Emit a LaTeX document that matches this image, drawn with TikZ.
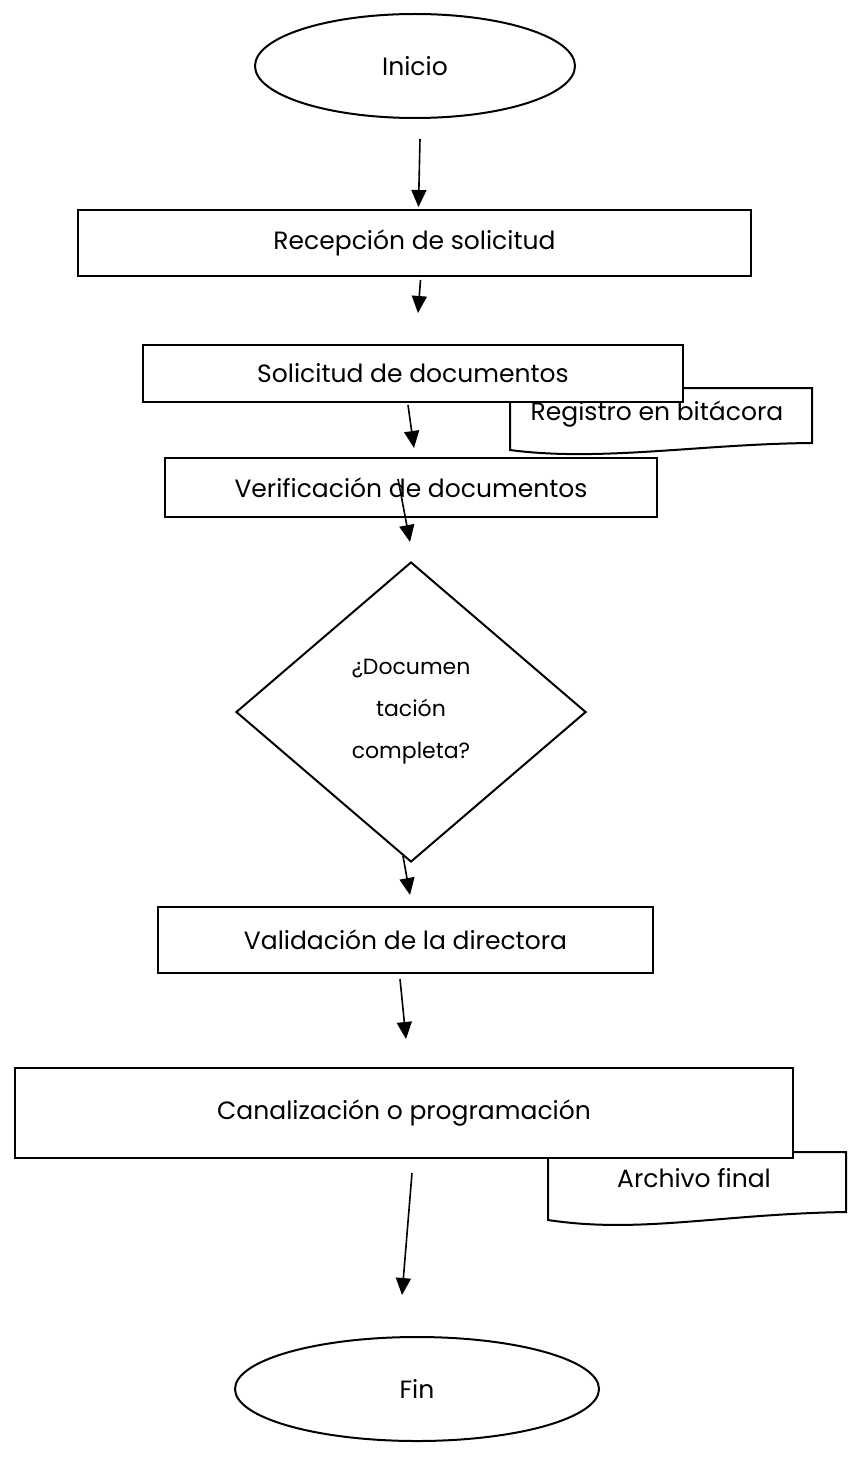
\documentclass[tikz,border=0pt]{standalone}
\usepackage{fontspec}
\setmainfont{Poppins}
\usetikzlibrary{shapes.geometric,arrows.meta}

\begin{document}
\begin{tikzpicture}
    % estilos: caja de proceso, terminal, decision, documento y flecha
    [x=1pt,y=-1pt,
    Paso/.style={rectangle,draw=black,fill=white,line width=2pt,inner sep=0pt,font=\fontsize{25}{30}\selectfont},
    Terminal/.style={ellipse,draw=black,fill=white,line width=2pt,inner sep=0pt,font=\fontsize{25}{30}\selectfont},
    Decision/.style={diamond,draw=black,fill=white,line width=2pt,inner sep=0pt,align=center,font=\fontsize{22}{42}\selectfont},
    DocTexto/.style={inner sep=0pt,font=\fontsize{25}{30}\selectfont},
    Flecha/.style={line width=1.6pt,-{Triangle[length=17pt,width=15pt]}}]

    % marco de la hoja
    \useasboundingbox (0,0) rectangle (851,1458);

    % documentos (detras de las cajas)
    \filldraw[fill=white,line width=2pt] (510,388) -- (812,388) -- (812,443)
        .. controls (700,444) and (600,462) .. (510,450) -- cycle;
    \node[DocTexto] (registro) at (657,414) {Registro en bitácora};
    \filldraw[fill=white,line width=2pt] (548,1152) -- (846,1152) -- (846,1212)
        .. controls (720,1214) and (640,1234) .. (548,1220) -- cycle;
    \node[DocTexto] (archivo) at (694,1178) {Archivo final};

    % inicio y fin
    \node[Terminal,minimum width=320,minimum height=104] (inicio) at (415,66) {Inicio};
    \node[Terminal,minimum width=364,minimum height=104] (fin) at (417,1389) {Fin};

    % cajas de proceso
    \node[Paso,minimum width=673,minimum height=66] (recep) at (414.5,243) {Recepción de solicitud};
    \node[Paso,minimum width=540,minimum height=57] (solic) at (413,373.5) {Solicitud de documentos};
    \node[Paso,minimum width=492,minimum height=59] (verif) at (411,487.5) {Verificación de documentos};
    \node[Paso,minimum width=495,minimum height=66] (valid) at (405.5,940) {Validación de la directora};
    \node[Paso,minimum width=778,minimum height=90] (canal) at (404,1113) {Canalización o programación};

    % decision
    \node[Decision,minimum width=350,minimum height=300] (docum) at (411,712) {¿Documen\\tación\\completa?};

    % flechas entre pasos
    \foreach \a/\sa/\b/\sb in {inicio/{(5,20)}/recep/{(4,-2)},
                               recep/{(6,3)}/solic/{(5,-31)},
                               solic/{(-5,2)}/verif/{(3,-9)},
                               verif/{(-13,-39)}/docum/{(-1,-19)},
                               docum/{(-8,-7)}/valid/{(4.5,-11)},
                               valid/{(-5.5,5)}/canal/{(2,-28)},
                               canal/{(8,14)}/fin/{(-15,-41)}}
    {
        \draw[Flecha]([shift=\sa]\a.south)--([shift=\sb]\b.north);
    }

\end{tikzpicture}
\end{document}
